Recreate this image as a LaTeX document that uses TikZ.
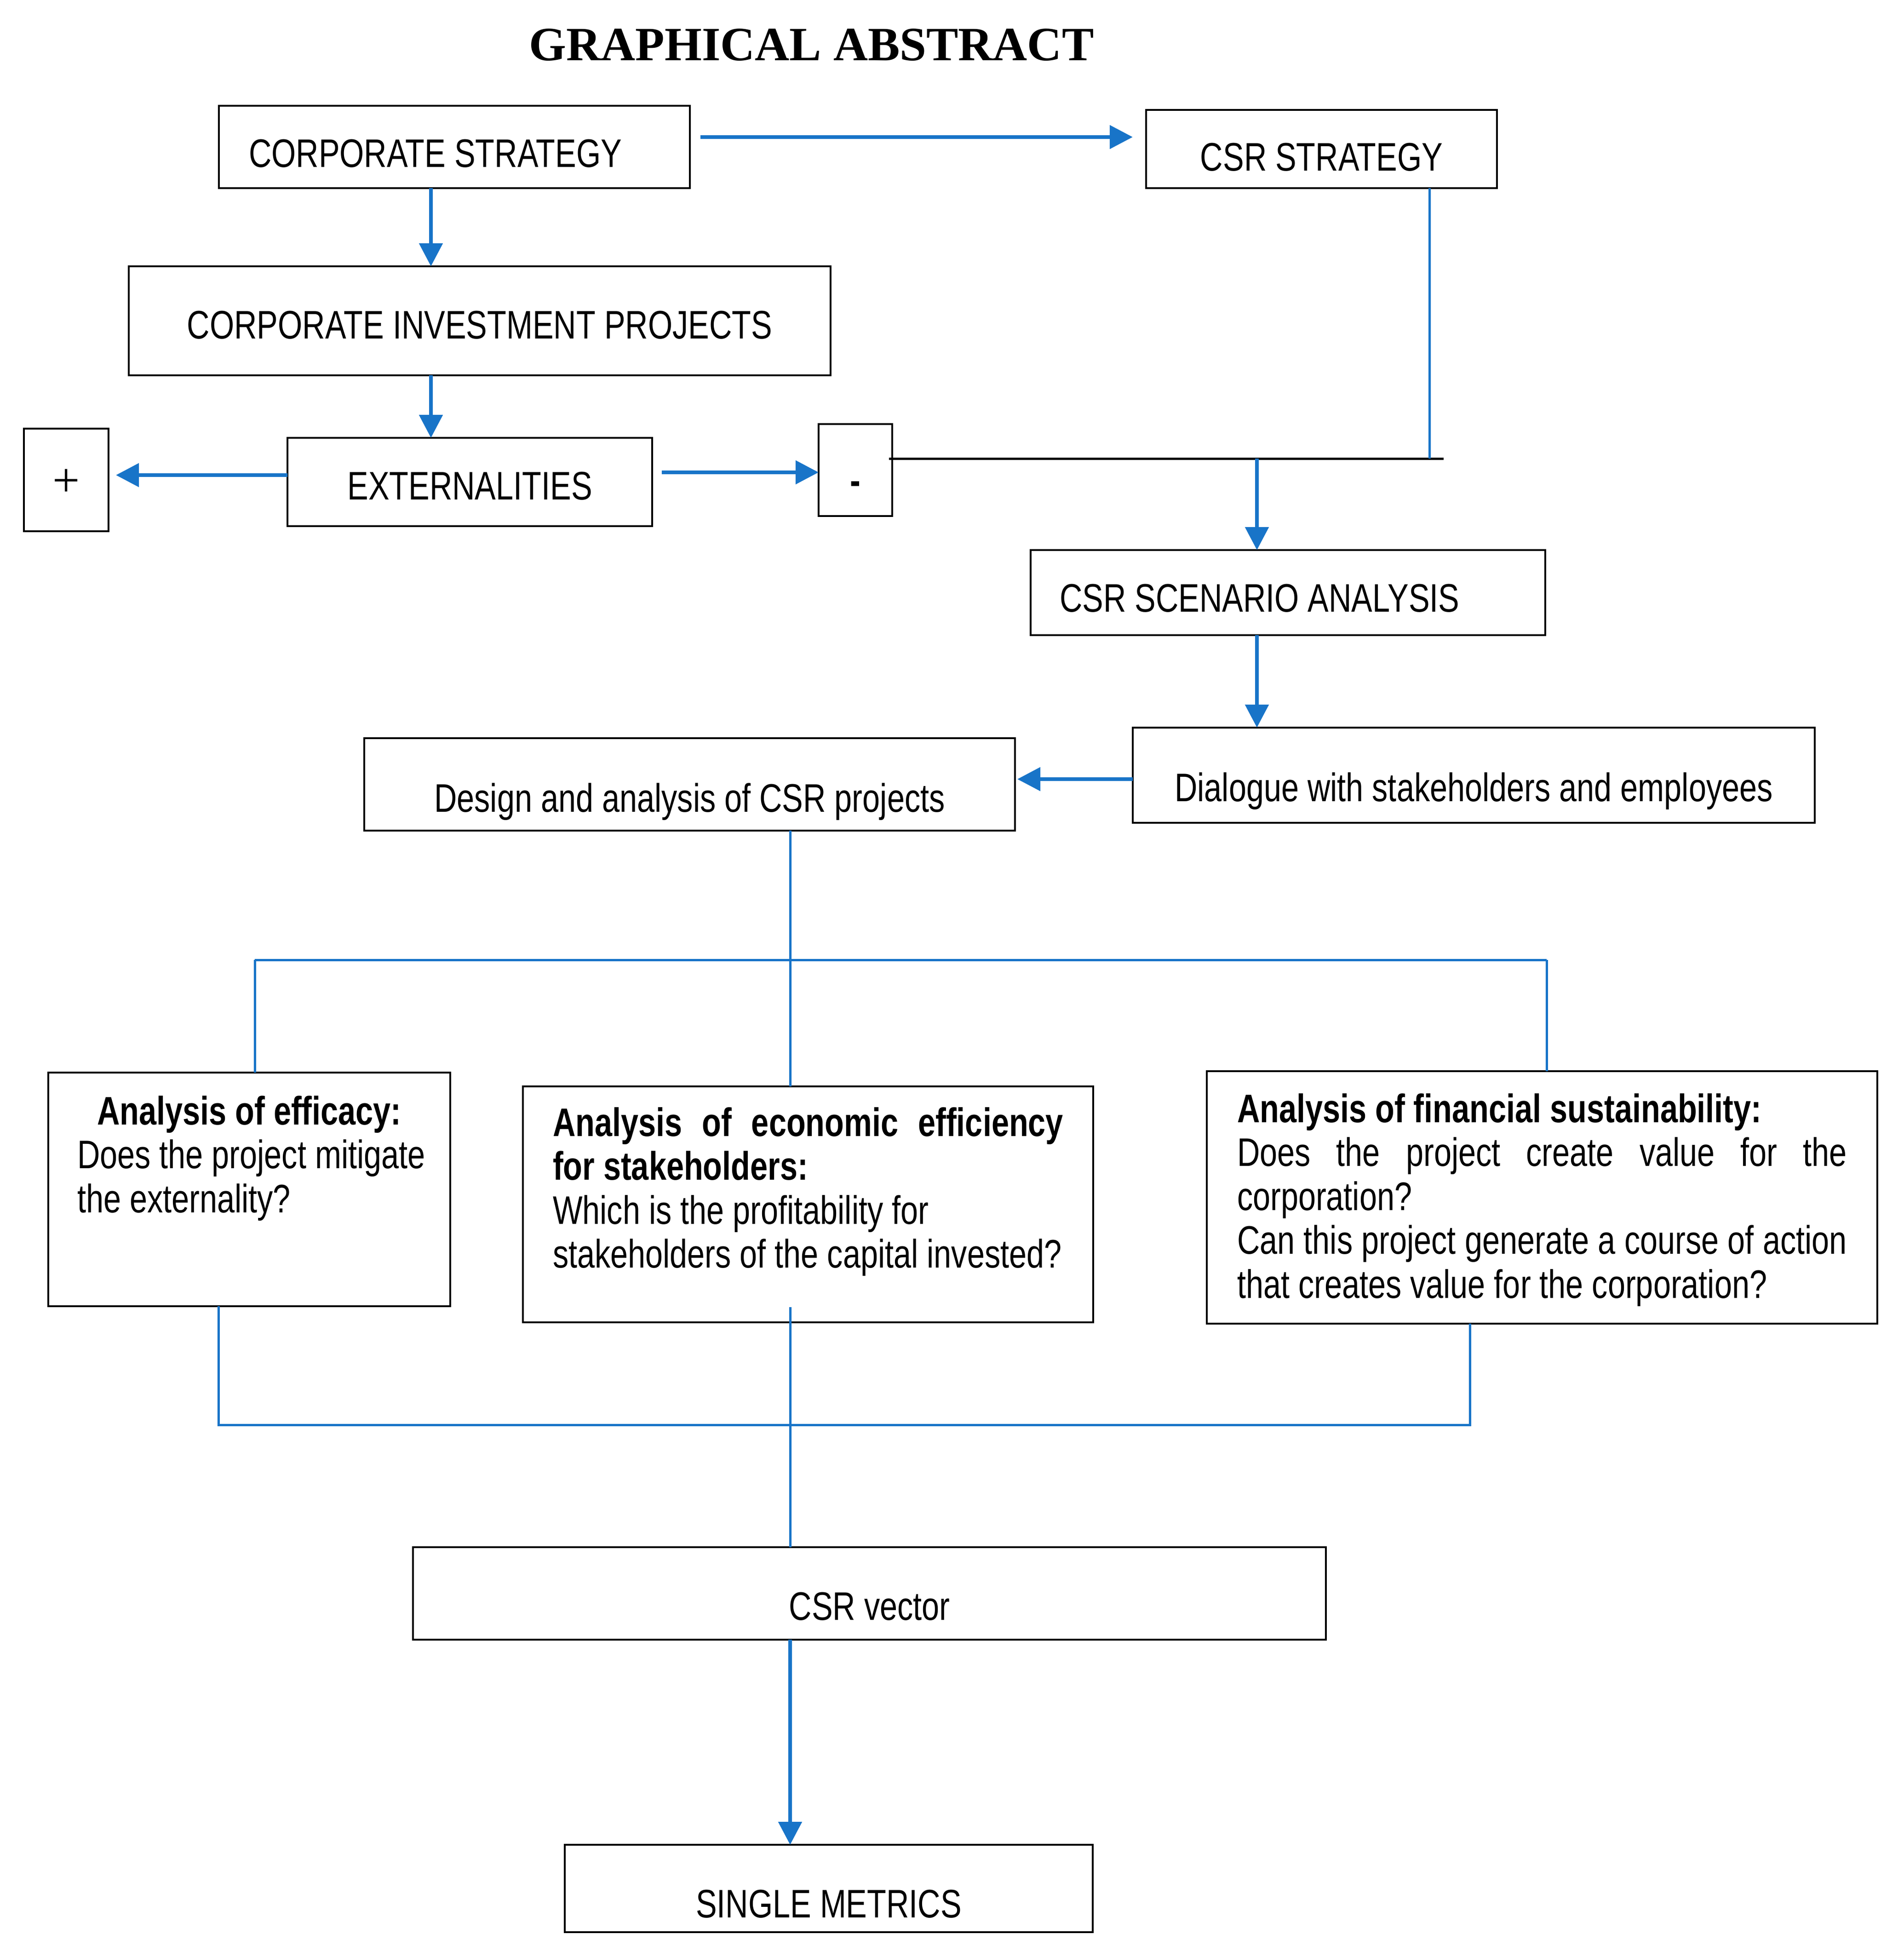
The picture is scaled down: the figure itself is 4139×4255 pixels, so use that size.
\documentclass[tikz,border=0pt]{standalone}
\usepackage{fontspec}
\setmainfont{Liberation Sans}[FakeStretch=0.79]
\newfontfamily\titlefam{Liberation Serif}
\newfontfamily\plusfam{Liberation Serif}
\usetikzlibrary{arrows.meta,calc}
\definecolor{cblue}{RGB}{24,116,200}
\newcommand\mainsz{\fontsize{86.6pt}{95.5pt}\selectfont}
\begin{document}
\begin{tikzpicture}[x=1pt,y=-1pt,
  box/.style={draw, line width=4.2pt, anchor=north west, outer sep=0pt, inner ysep=0pt, font=\mainsz},
  nsp/.style={execute at begin node={\spaceskip=\fontdimen2\font\xspaceskip=\fontdimen2\font}},
  arr/.style={draw=cblue, line width=8.5pt, -{Triangle[length=50pt,width=50pt]}},
  thinl/.style={draw=cblue, line width=5pt},
  blk/.style={draw=black, line width=5pt}]
\useasboundingbox (0,0) rectangle (4139,4255);

\node[font=\titlefam\bfseries\fontsize{104pt}{110pt}\selectfont, anchor=base, inner sep=0pt] (title) at (1764.5,132) {GRAPHICAL ABSTRACT};

\node[box, nsp, minimum width=1024pt, text width=894pt, inner xsep=65pt, text height=133pt, text depth=46pt, align=left] (cs) at (476,230) {CORPORATE STRATEGY};
\node[box, nsp, minimum width=763pt, text width=723pt, inner xsep=20pt, text height=132pt, text depth=38pt, align=center] (csr) at (2492,239) {CSR STRATEGY};
\node[box, nsp, minimum width=1526pt, text width=1486pt, inner xsep=20pt, text height=157pt, text depth=80pt, align=center] (cip) at (280,579) {CORPORATE INVESTMENT PROJECTS};
\node[box, minimum width=184pt, text width=144pt, inner xsep=20pt, text height=147pt, text depth=76pt, align=center, font=\plusfam\fontsize{105pt}{110pt}\selectfont] (plus) at (52,932) {+};
\node[box, nsp, minimum width=793pt, text width=753pt, inner xsep=20pt, text height=134pt, text depth=58pt, align=center] (ext) at (625,952) {EXTERNALITIES};
\node[box, minimum width=160pt, text width=120pt, inner xsep=20pt, text height=152pt, text depth=48pt, align=center] (minus) at (1780,922) {\textbf{-}};
\node[box, nsp, minimum width=1119pt, text width=993pt, inner xsep=63pt, text height=134pt, text depth=51pt, align=left] (scen) at (2241,1196) {CSR SCENARIO ANALYSIS};
\node[box, nsp, minimum width=1483pt, text width=1443pt, inner xsep=20pt, text height=160pt, text depth=47pt, align=center] (dial) at (2463,1582) {Dialogue with stakeholders and employees};
\node[box, nsp, minimum width=1415pt, text width=1375pt, inner xsep=20pt, text height=160pt, text depth=41pt, align=center] (design) at (792,1605) {Design and analysis of CSR projects};

\node[box, nsp, minimum width=874pt, text width=748pt, inner xsep=63pt, text height=113pt, text depth=395pt, align=left] (eff) at (105,2332)
  {\makebox[\linewidth][c]{\textbf{Analysis of efficacy:}}\\ \mbox{Does the project mitigate}\\ \mbox{the externality?}};
\node[box, minimum width=1240pt, text width=1110pt, inner xsep=65pt, text height=108pt, text depth=405pt, align=justify] (econ) at (1137,2362)
  {\textbf{Analysis of economic efficiency\linebreak for stakeholders:}\\ \mbox{Which is the profitability for}\\ \mbox{stakeholders of the capital invested?}};
\node[box, minimum width=1458pt, text width=1326pt, inner xsep=66pt, text height=111pt, text depth=438pt, align=justify] (fin) at (2624,2329)
  {\textbf{Analysis of financial sustainability:}\\ Does the project create value for the\linebreak corporation?\\ Can this project generate a course of action\linebreak that creates value for the corporation?};

\node[box, nsp, minimum width=1985pt, text width=1945pt, inner xsep=20pt, text height=158pt, text depth=43pt, align=center] (vec) at (898,3364) {CSR vector};
\node[box, nsp, minimum width=1148pt, text width=1108pt, inner xsep=20pt, text height=158pt, text depth=32pt, align=center] (sm) at (1228,4011) {SINGLE METRICS};

% connectors
\coordinate (ya1) at (0,298);
\draw[arr] ($(cs.east|-ya1)+(23,0)$) -- ($(csr.west|-ya1)+(-29,0)$);
\coordinate (xa) at (937,0);
\draw[arr] (cs.south-|xa) -- (cip.north-|xa);
\draw[arr] (cip.south-|xa) -- (ext.north-|xa);
\coordinate (y4) at (0,1033);
\draw[arr] (ext.west|-y4) -- ($(plus.east|-y4)+(16,0)$);
\coordinate (y5) at (0,1027);
\draw[arr] ($(ext.east|-y5)+(21,0)$) -- (minus.west|-y5);
\coordinate (bl) at (0,997);
\coordinate (blend) at (3139,997);
\draw[blk] ($(minus.east|-bl)+(-7,0)$) -- (blend);
\coordinate (xv) at (3108,0);
\draw[thinl] (csr.south-|xv) -- (xv|-bl);
\coordinate (xd) at (2733,0);
\draw[arr] (xd|-bl) -- (scen.north-|xd);
\draw[arr] (scen.south-|xd) -- (dial.north-|xd);
\coordinate (y6) at (0,1694);
\draw[arr] (dial.west|-y6) -- ($(design.east|-y6)+(5,0)$);
\coordinate (xm) at (1718,0);
\coordinate (hl) at (554,2087);
\coordinate (hr) at (3363,2087);
\draw[thinl] (design.south-|xm) -- (econ.north-|xm);
\draw[thinl] (hl) -- (hr);
\draw[thinl] (hl) -- (eff.north-|hl);
\draw[thinl] (hr) -- (fin.north-|hr);
\coordinate (bl2) at (475,3098);
\coordinate (br2) at (3196,3098);
\draw[thinl] (eff.south-|bl2) -- (bl2) -- (br2) -- (fin.south-|br2);
\draw[thinl] ($(econ.south-|xm)+(0,-33)$) -- (vec.north-|xm);
\draw[arr] (vec.south-|xm) -- (sm.north-|xm);
\end{tikzpicture}
\end{document}
